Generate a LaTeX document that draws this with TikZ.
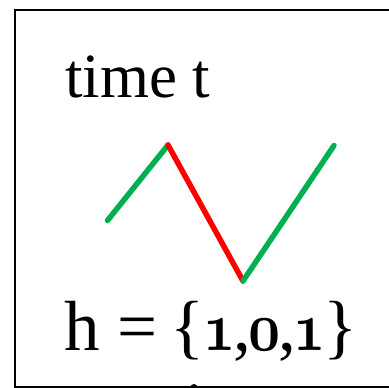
\documentclass[tikz,border=0pt]{standalone}
\usepackage{fontspec}
\usepackage{graphicx}
\setmainfont{Liberation Serif}
\definecolor{segGreen}{RGB}{0,176,80}
\definecolor{segRed}{RGB}{255,0,0}
\font\osdfont=cmmib10 at 70pt
\newcommand{\osd}[1]{\scalebox{0.8}[1]{\osdfont #1}}
\tikzset{
  seg/.style={line width=5.5pt, line cap=round, line join=round},
  lbl/.style={anchor=base west, inner sep=0pt, outer sep=0pt},
  frame/.style={line width=2pt, draw=black}
}
\begin{document}
\begin{tikzpicture}[x=1pt,y=-1pt]
\useasboundingbox (0,0) rectangle (389,388);
\clip (0,0) rectangle (389,388);
\draw[frame] (400,10) -- (14.5,10) -- (14.5,386.5) -- (400,386.5);
\node[lbl, font=\fontsize{63}{63}\selectfont] (time) at (65,97.5) {time t};
\coordinate (a) at (107.5,220.5);
\coordinate (b) at (168,145);
\coordinate (c) at (243,281);
\coordinate (d) at (334,145.5);
\draw[seg, segGreen] (a) -- (b);
\draw[seg, segRed] (b) -- (c);
\draw[seg, segGreen] (c) -- (d);
\node[lbl, font=\fontsize{71}{71}\selectfont] (h) at (64,350.5) {h = \kern-4pt\{\kern-2pt\osd{1}\kern-2pt,\kern-3pt\osd{0}\kern-2pt,\kern-3pt\osd{1}\kern-2pt\}};
\fill[black] (194,387.5) circle[radius=3.5] node (dot) {};
\end{tikzpicture}
\end{document}
